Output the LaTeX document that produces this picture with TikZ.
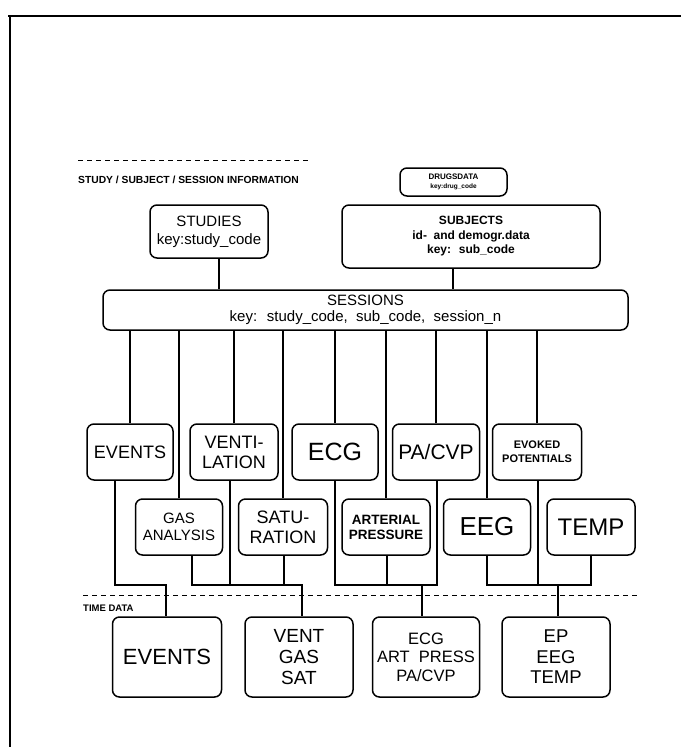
\documentclass[tikz,border=0pt]{standalone}
\usepackage{fontspec}
\setmainfont{Liberation Sans}
\begin{document}
\begin{tikzpicture}[x=1pt,y=-1pt,
  box/.style={draw, line width=1.5pt, rounded corners=7pt, align=center, inner sep=0pt},
  wire/.style={line width=1.6pt},
  sepline/.style={line width=0.9pt, dash pattern=on 5pt off 4pt},
  frameline/.style={line width=2.8pt},
  lbl/.style={font=\bfseries\fontsize{10.3}{11}\selectfont, anchor=west, inner sep=0pt},
  r1/.style={box, minimum height=56pt},
  r2/.style={box, minimum height=56pt},
  r3/.style={box, minimum height=80pt}
]
\useasboundingbox (0,0) rectangle (681,747);
% frame
\draw[frameline] (8,16) -- (681,16);
\draw[frameline] (10,16) -- (10,747);
% section separators and labels
\draw[sepline] (78,160) -- (308,160);
\node[lbl] (lblstudy) at (78,180) {STUDY / SUBJECT / SESSION INFORMATION};
\draw[sepline] (83,595) -- (640,595);
\node[lbl, font=\bfseries\fontsize{9.5}{10}\selectfont] (lbltime) at (83,608) {TIME DATA};

% top boxes
\node[box, minimum width=107pt, minimum height=28pt, font=\bfseries\fontsize{8}{8.5}\selectfont] (drugs) at (453.5,182) {DRUGSDATA\\{\fontsize{6.5}{7}\selectfont key:drug\_code}};
\node[box, minimum width=118pt, minimum height=53pt, font=\fontsize{15}{18}\selectfont] (studies) at (209,231.5) {STUDIES\\key:study\_code};
\node[box, minimum width=258pt, minimum height=63pt, font=\bfseries\fontsize{12}{14.5}\selectfont] (subjects) at (471,236.5) {SUBJECTS\\id- \ and demogr.data\\key: \ sub\_code};
\node[box, minimum width=525pt, minimum height=40pt, font=\fontsize{15}{16.5}\selectfont] (sessions) at (365.5,310) {SESSIONS\\key: \ study\_code, \ sub\_code, \ session\_n};

% row 1
\node[r1, minimum width=86pt, font=\fontsize{18}{20}\selectfont] (ev1) at (130,452) {EVENTS};
\node[r1, minimum width=88pt, font=\fontsize{18}{20}\selectfont] (vent) at (234,452) {VENTI-\\LATION};
\node[r1, minimum width=86pt, font=\fontsize{25}{27}\selectfont] (ecg) at (335,452) {ECG};
\node[r1, minimum width=87pt, font=\fontsize{21}{23}\selectfont] (pacvp) at (436,452) {PA/CVP};
\node[r1, minimum width=89pt, font=\bfseries\fontsize{11}{14}\selectfont] (evoked) at (537,452) {EVOKED\\POTENTIALS};

% row 2
\node[r2, minimum width=87pt, font=\fontsize{15}{17}\selectfont] (gas) at (179,527) {GAS\\ANALYSIS};
\node[r2, minimum width=89pt, font=\fontsize{18}{20}\selectfont] (sat) at (283,527) {SATU-\\RATION};
\node[r2, minimum width=88pt, font=\bfseries\fontsize{13.5}{15}\selectfont] (art) at (386,527) {ARTERIAL\\PRESSURE};
\node[r2, minimum width=87pt, font=\fontsize{26}{28}\selectfont] (eeg) at (487,527) {EEG};
\node[r2, minimum width=88pt, font=\fontsize{24}{26}\selectfont] (temp) at (591,527) {TEMP};

% bottom row
\node[r3, minimum width=109pt, font=\fontsize{22}{24}\selectfont] (ev2) at (167,657) {EVENTS};
\node[r3, minimum width=108pt, font=\fontsize{19}{21}\selectfont] (vgs) at (299,657) {VENT\\GAS\\SAT};
\node[r3, minimum width=107pt, font=\fontsize{16.5}{18.5}\selectfont] (ecgb) at (426,657) {ECG\\ART \ PRESS\\PA/CVP};
\node[r3, minimum width=108pt, font=\fontsize{18.5}{20.5}\selectfont] (ep) at (556,657) {EP\\EEG\\TEMP};

% connectors top
\draw[wire] ([xshift=10pt]studies.south) -- ([xshift=10pt]studies.south |- sessions.north);
\draw[wire] ([xshift=-18pt]subjects.south) -- ([xshift=-18pt]subjects.south |- sessions.north);

% sessions to detail tables
\foreach \n in {ev1,gas,vent,sat,ecg,art,pacvp,eeg,evoked}
  \draw[wire] (\n.north) -- (\n.north |- sessions.south);

% junctions
\coordinate (jA) at (166,585);
\coordinate (jB) at (302,585);
\coordinate (jC) at (422,585);
\coordinate (jD) at (558,585);

% EVENTS
\draw[wire] ([xshift=-15pt]ev1.south) |- (jA) -- (jA |- ev2.north);
% VENT GAS SAT
\draw[wire] ([xshift=-4pt]vent.south) -- ([xshift=-4pt]vent.south |- jB);
\draw[wire] ([xshift=13pt]gas.south) |- (jB) -- (jB |- vgs.north);
\draw[wire] ([xshift=1pt]sat.south) -- ([xshift=1pt]sat.south |- jB);
% ECG ART PA
\draw[wire] (ecg.south) |- ([xshift=1pt]pacvp.south |- jC) -- ([xshift=1pt]pacvp.south);
\draw[wire] ([xshift=1pt]art.south) -- ([xshift=1pt]art.south |- jC);
\draw[wire] (jC) -- (jC |- ecgb.north);
% EP EEG TEMP
\draw[wire] (eeg.south) |- (jD) -| (temp.south);
\draw[wire] ([xshift=1pt]evoked.south) -- ([xshift=1pt]evoked.south |- jD);
\draw[wire] (jD) -- (jD |- ep.north);
\end{tikzpicture}
\end{document}
